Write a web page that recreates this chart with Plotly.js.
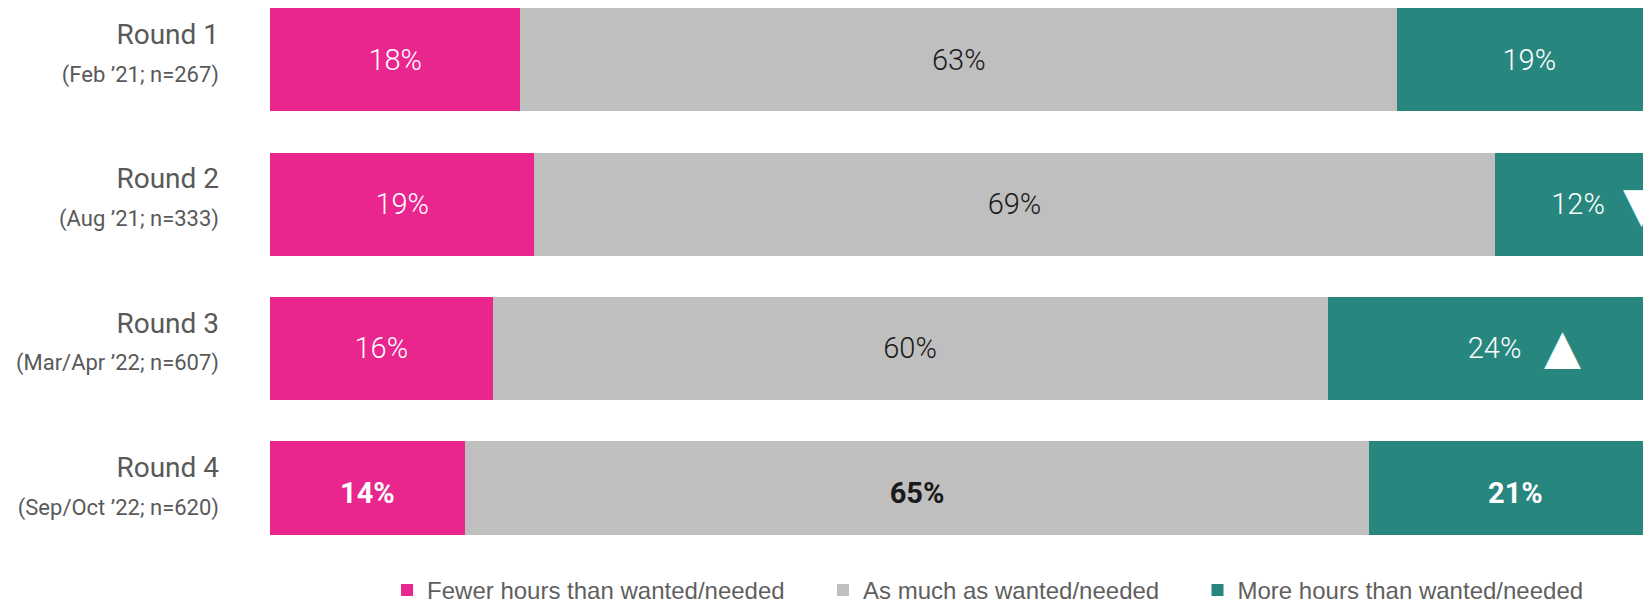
<!DOCTYPE html>
<html>
<head>
<meta charset="utf-8">
<script src="https://cdn.plot.ly/plotly-3.0.1.min.js"></script>
<style>
html,body{margin:0;padding:0;background:#fff;}
#chart{width:1643px;height:605px;}
</style>
</head>
<body>
<div id="chart"></div>
<script>
// ---- data ----
const rounds = ['Round 1', 'Round 2', 'Round 3', 'Round 4'];
const waves = ["(Feb \u201921; n=267)", "(Aug \u201921; n=333)", "(Mar/Apr \u201922; n=607)", "(Sep/Oct \u201922; n=620)"];
const fewer = [18, 19, 16, 14];
const asMuch = [63, 69, 60, 65];
const more = [19, 12, 24, 21];
const moreChange = ['', 'down', 'up', ''];   // significant change markers
const seriesNames = ['Fewer hours than wanted/needed', 'As much as wanted/needed', 'More hours than wanted/needed'];

// ---- styling ----
const FONT = 'Roboto, "Liberation Sans", Arial, sans-serif';
const colors = ['#E9258E', '#BFBFBF', '#27877F'];
const textColors = ['#ffffff', '#1a1a1a', '#ffffff'];
const yIdx = rounds.map((_, i) => i);
const lastIdx = rounds.length - 1;

function labels(vals) {
  return vals.map((v, i) => i === lastIdx ? '<b>' + v + '%</b>' : v + '%');
}

const seriesVals = [fewer, asMuch, more];
const traces = seriesVals.map((vals, k) => ({
  type: 'bar',
  orientation: 'h',
  name: seriesNames[k] + '\u00a0\u00a0\u00a0\u00a0\u00a0',
  x: vals,
  y: yIdx,
  marker: {color: colors[k], line: {width: 0}},
  text: labels(vals),
  textposition: 'inside',
  insidetextanchor: 'middle',
  textangle: 0,
  constraintext: 'none',
  textfont: {family: FONT, size: 29, weight: 300, color: textColors[k]},
  hoverinfo: 'skip',
  cliponaxis: true
}));

// change markers placed next to the "more" label
const annotations = [];
moreChange.forEach((c, i) => {
  if (!c) return;
  const center = fewer[i] + asMuch[i] + more[i] / 2;
  annotations.push({
    x: center, y: i, xref: 'x', yref: 'y',
    text: c === 'up' ? '\u25B2' : '\u25BC',
    showarrow: false,
    xshift: c === 'up' ? 68 : 63,
    yshift: c === 'up' ? 2 : 0,
    font: {family: 'DejaVu Sans', size: 48, color: '#ffffff'}
  });
});

const ticktext = rounds.map((r, i) =>
  '<span style="font-size:28px">' + r + '</span><br><span style="font-size:22px">' + waves[i] + '</span>');

const layout = {
  width: 1643, height: 605,
  margin: {l: 270, r: 0, t: 0, b: 70, autoexpand: false},
  paper_bgcolor: '#ffffff', plot_bgcolor: '#ffffff',
  barmode: 'stack',
  bargap: 0.286,
  showlegend: true,
  legend: {
    orientation: 'h', x: 0.535, xanchor: 'center', y: -0.1455, yanchor: 'bottom',
    font: {family: '"Liberation Sans", Arial, sans-serif', size: 24, color: '#5f5f5f'},
    traceorder: 'normal', itemclick: false, itemdoubleclick: false
  },
  xaxis: {range: [0, 98.67], visible: false, fixedrange: true},
  yaxis: {
    range: [3.294, -0.414],
    tickvals: yIdx, ticktext: ticktext,
    showgrid: false, zeroline: false, showline: false, ticks: '',
    ticklabelstandoff: 50,
    ticklabelshift: 7,
    tickfont: {family: FONT, size: 29, color: '#595959'},
    fixedrange: true
  },
  annotations: annotations,
  hovermode: false
};

Plotly.newPlot('chart', traces, layout, {displayModeBar: false, staticPlot: true});
</script>
</body>
</html>
